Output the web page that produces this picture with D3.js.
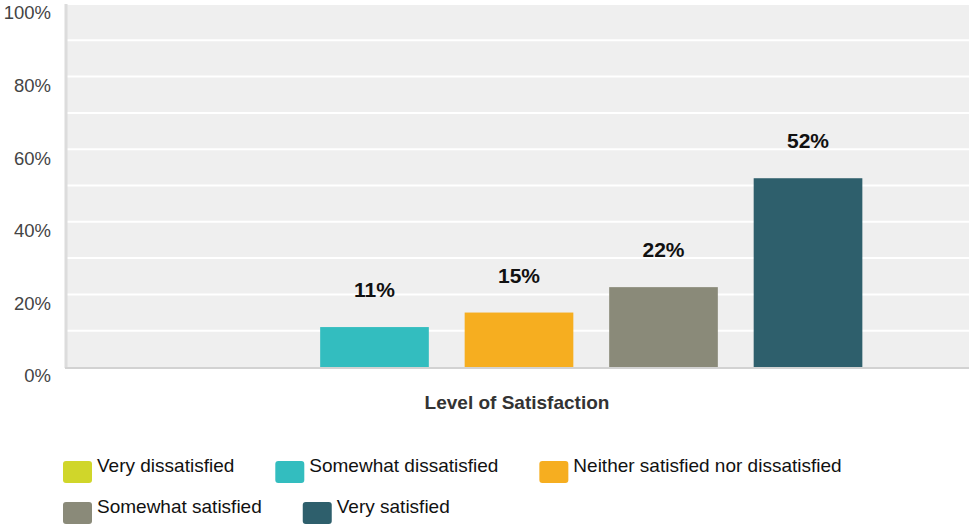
<!DOCTYPE html>
<html>
<head>
<meta charset="utf-8">
<script src="https://cdn.jsdelivr.net/npm/d3@7"></script>
<style>
  html, body { margin: 0; padding: 0; background: #fff; }
  svg { display: block; font-family: "Liberation Sans", Arial, sans-serif; }
</style>
</head>
<body>
<svg id="chart" width="969" height="524"></svg>
<script>
// Survey results: share of respondents by level of satisfaction
const categories = ["Very dissatisfied", "Somewhat dissatisfied", "Neither satisfied nor dissatisfied", "Somewhat satisfied", "Very satisfied"];
const values = [0, 11, 15, 22, 52];
const colors = ["#d0d62a", "#33bdbf", "#f6ae20", "#8a8a79", "#2e5f6c"];
const yTicks = [0, 20, 40, 60, 80, 100];
const gridTicks = [0, 10, 20, 30, 40, 50, 60, 70, 80, 90, 100];
const axisTitle = "Level of Satisfaction";

const svg = d3.select("#chart");
const plot = { left: 67, right: 969, top: 4, bottom: 367 };

const x = d3.scaleBand()
  .domain(categories)
  .range([plot.left + 1, plot.right + 1])
  .paddingInner(0.248)
  .paddingOuter(0.745);

const y = d3.scaleLinear()
  .domain([0, 100])
  .range([plot.bottom, plot.top]);

// plot background
svg.append("rect")
  .attr("x", plot.left).attr("y", plot.top)
  .attr("width", plot.right - plot.left)
  .attr("height", plot.bottom - plot.top)
  .attr("fill", "#efefef");

// horizontal gridlines
svg.append("g")
  .selectAll("line")
  .data(gridTicks.filter(d => d > 0))
  .join("line")
  .attr("x1", plot.left).attr("x2", plot.right)
  .attr("y1", d => y(d)).attr("y2", d => y(d))
  .attr("stroke", "#ffffff")
  .attr("stroke-width", 2);

// axis lines
svg.append("line")
  .attr("x1", plot.left - 1).attr("x2", plot.left - 1)
  .attr("y1", plot.top).attr("y2", plot.bottom + 1)
  .attr("stroke", "#dcdcdc").attr("stroke-width", 3);
svg.append("line")
  .attr("x1", plot.left - 2).attr("x2", plot.right)
  .attr("y1", plot.bottom + 1).attr("y2", plot.bottom + 1)
  .attr("stroke", "#d2d2d2").attr("stroke-width", 2);

// y axis labels
const yAxis = d3.axisLeft(y)
  .tickValues(yTicks)
  .tickFormat(d => d + "%")
  .tickSize(0)
  .tickPadding(0);
const yg = svg.append("g")
  .attr("transform", `translate(${50},${9})`)
  .call(yAxis);
yg.select(".domain").remove();
yg.selectAll("text")
  .attr("font-size", 18.5)
  .attr("font-family", "'Liberation Sans', Arial, sans-serif")
  .attr("fill", "#444")
  .attr("x", 1);

// bars
svg.append("g")
  .selectAll("rect")
  .data(categories.map((c, i) => ({ c, v: values[i], color: colors[i] })))
  .join("rect")
  .attr("x", d => x(d.c))
  .attr("y", d => y(d.v))
  .attr("width", x.bandwidth())
  .attr("height", d => y(0) - y(d.v))
  .attr("fill", d => d.color);

// value labels
svg.append("g")
  .selectAll("text")
  .data(categories.map((c, i) => ({ c, v: values[i] })).filter(d => d.v > 0))
  .join("text")
  .attr("x", d => x(d.c) + x.bandwidth() / 2)
  .attr("y", d => y(d.v) - 30)
  .attr("text-anchor", "middle")
  .attr("font-size", 21)
  .attr("font-weight", "bold")
  .attr("fill", "#111")
  .text(d => d.v + "%");

// x axis title
svg.append("text")
  .attr("x", (plot.left + plot.right) / 2 - 1)
  .attr("y", 409)
  .attr("text-anchor", "middle")
  .attr("font-size", 19)
  .attr("font-weight", "bold")
  .attr("fill", "#333")
  .text(axisTitle);

// legend: flowing rows
const legend = svg.append("g");
const legendLeft = 63, legendMax = 940, rowGap = 41, itemGap = 41;
let lx = legendLeft, ly = 461;
categories.forEach((c, i) => {
  const g = legend.append("g");
  g.append("rect")
    .attr("width", 29).attr("height", 22)
    .attr("rx", 3).attr("ry", 3)
    .attr("fill", colors[i]);
  const t = g.append("text")
    .attr("x", 34).attr("y", 6)
    .attr("dominant-baseline", "middle")
    .attr("font-size", 19)
    .attr("fill", "#111")
    .text(c);
  const w = 34 + t.node().getComputedTextLength();
  if (lx + w > legendMax && lx > legendLeft) { lx = legendLeft; ly += rowGap; }
  g.attr("transform", `translate(${lx},${ly})`);
  lx += w + itemGap;
});
</script>
</body>
</html>
